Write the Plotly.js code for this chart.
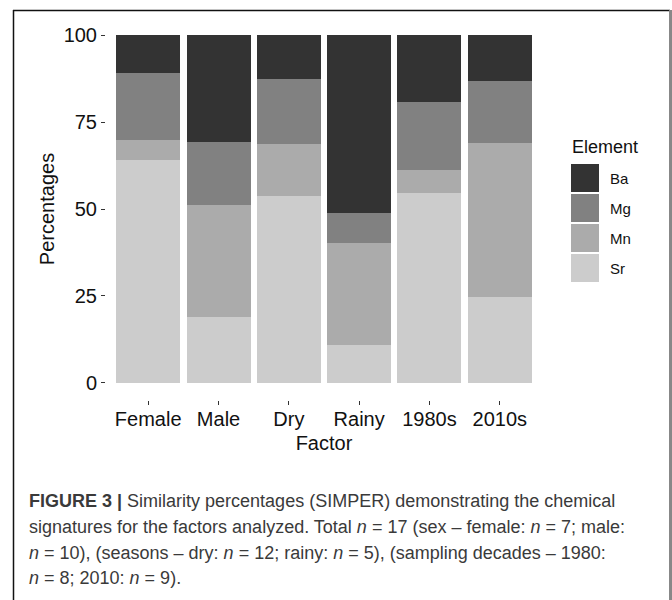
<!DOCTYPE html>
<html>
<head>
<meta charset="utf-8">
<script src="https://cdn.plot.ly/plotly-3.0.1.min.js"></script>
<style>
  html, body { margin: 0; padding: 0; background: #fff; }
  #chart { width: 672px; height: 600px; }
</style>
</head>
<body>
<div id="chart"></div>
<script>
// ---- data ----
const factors = ["Female", "Male", "Dry", "Rainy", "1980s", "2010s"];
const elements = ["Ba", "Mg", "Mn", "Sr"];
const Sr = [64.1, 18.8, 53.7, 10.9, 54.5, 24.7];
const Mn = [5.9, 32.3, 14.9, 29.4, 6.7, 44.2];
const Mg = [19.3, 18.2, 18.8, 8.5, 19.6, 17.9];
const Ba = [10.7, 30.7, 12.6, 51.2, 19.2, 13.2];
const yTicks = [0, 25, 50, 75, 100];
const colors = { Ba: "#333333", Mg: "#818181", Mn: "#ABABAB", Sr: "#CCCCCC" };
const captionLines = [
  "<b>FIGURE 3 |</b> Similarity percentages (SIMPER) demonstrating the chemical",
  "signatures for the factors analyzed. Total <i>n</i> = 17 (sex – female: <i>n</i> = 7; male:",
  "<i>n</i> = 10), (seasons – dry: <i>n</i> = 12; rainy: <i>n</i> = 5), (sampling decades – 1980:",
  "<i>n</i> = 8; 2010: <i>n</i> = 9)."
];

// ---- layout geometry (pixels) ----
const W = 672, H = 600;
const M = { l: 106, r: 130, t: 18, b: 200 };
const PW = W - M.l - M.r, PH = H - M.t - M.b;
const px = x => (x - M.l) / PW;
const py = y => (H - M.b - y) / PH;

const series = { Sr: Sr, Mn: Mn, Mg: Mg, Ba: Ba };
const stackOrder = ["Sr", "Mn", "Mg", "Ba"];
const traces = stackOrder.map(name => ({
  type: "bar",
  name: name,
  x: factors,
  y: series[name],
  marker: { color: colors[name], line: { width: 0 } },
  hoverinfo: "x+y+name"
}));

const FONT = "Liberation Sans, Arial, sans-serif";
const shapes = [];
const annotations = [];

// frame around the figure
shapes.push({ type: "line", xref: "paper", yref: "paper", x0: px(13.5), x1: px(13.5), y0: py(10), y1: py(605), line: { color: "#111", width: 1.5 } });
shapes.push({ type: "line", xref: "paper", yref: "paper", x0: px(13), x1: px(670), y0: py(10.5), y1: py(10.5), line: { color: "#111", width: 1.5 } });
shapes.push({ type: "line", xref: "paper", yref: "paper", x0: px(670.5), x1: px(670.5), y0: py(10), y1: py(605), line: { color: "#888", width: 3 } });

// legend (manual, ggplot style)
annotations.push({ xref: "paper", yref: "paper", x: px(570), y: py(147), xanchor: "left", yanchor: "middle",
  text: "Element", showarrow: false, font: { family: FONT, size: 18, color: "#111" } });
elements.forEach((el, i) => {
  const top = 164 + i * 30;
  shapes.push({ type: "rect", xref: "paper", yref: "paper", x0: px(571), x1: px(599), y0: py(top), y1: py(top + 28),
    fillcolor: colors[el], line: { width: 0 } });
  annotations.push({ xref: "paper", yref: "paper", x: px(608), y: py(top + 14), xanchor: "left", yanchor: "middle",
    text: el, showarrow: false, font: { family: FONT, size: 15, color: "#111" } });
});

// caption
const capY = [501, 527, 553, 578];
captionLines.forEach((t, i) => {
  annotations.push({ xref: "paper", yref: "paper", x: px(27), y: py(capY[i]), xanchor: "left", yanchor: "middle",
    align: "left", text: t, showarrow: false, font: { family: FONT, size: 18, color: "#3a3a3a" } });
});

const layout = {
  width: W, height: H,
  margin: M,
  paper_bgcolor: "#fff", plot_bgcolor: "#fff",
  barmode: "stack",
  bargap: 0.09,
  showlegend: false,
  font: { family: FONT, color: "#111" },
  xaxis: {
    type: "category",
    range: [-0.6, 5.6],
    showgrid: false, zeroline: false, showline: false,
    ticks: "outside", ticklen: 4, tickwidth: 1, tickcolor: "#333",
    ticklabelstandoff: -3,
    tickfont: { family: FONT, size: 20, color: "#111" },
    title: { text: "Factor", font: { family: FONT, size: 20, color: "#111" }, standoff: 6 },
    fixedrange: true
  },
  yaxis: {
    range: [-5, 105],
    tickvals: yTicks,
    showgrid: false, zeroline: false, showline: false,
    ticks: "outside", ticklen: 4, tickwidth: 1, tickcolor: "#333",
    tickfont: { family: FONT, size: 20, color: "#111" },
    title: { text: "Percentages", font: { family: FONT, size: 20, color: "#111" }, standoff: 3 },
    fixedrange: true
  },
  shapes: shapes,
  annotations: annotations
};

Plotly.newPlot("chart", traces, layout, { displayModeBar: false, staticPlot: false });
</script>
</body>
</html>
